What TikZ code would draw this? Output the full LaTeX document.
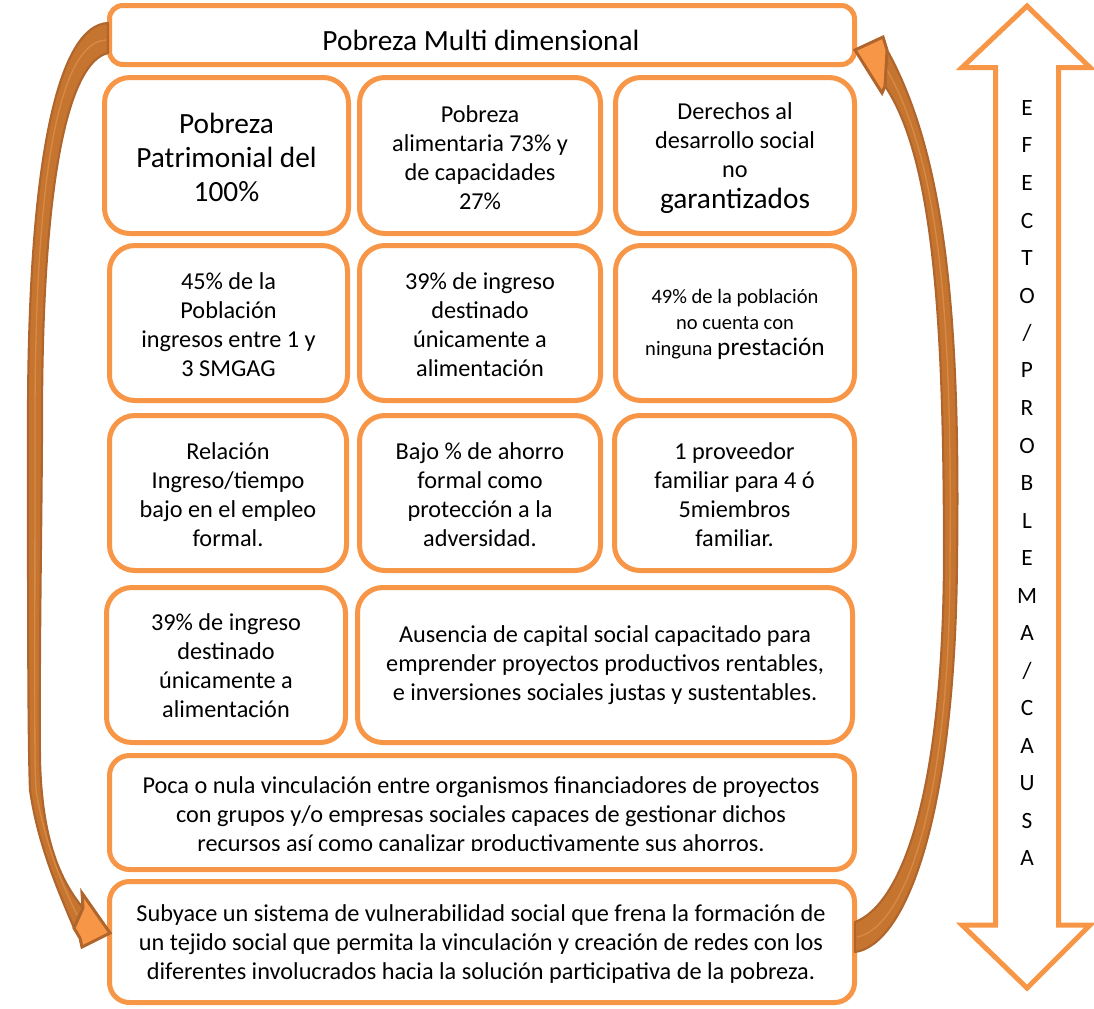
\documentclass[tikz,border=0pt]{standalone}
\usepackage{fontspec}
\setmainfont{Carlito}
\usetikzlibrary{fit}
\definecolor{acc}{HTML}{F79646}
\definecolor{arrdark}{HTML}{B0652C}
\definecolor{arrband}{HTML}{C67530}
\definecolor{arrlight}{HTML}{D88A45}
\newcommand{\nrmtxt}{\fontsize{18.2}{21.75}\selectfont}
\newcommand{\smltxt}{\fontsize{15.4}{19.5}\selectfont}
\newcommand{\bigtxt}{\fontsize{22}{25.5}\selectfont}
\newcommand{\lettxt}{\fontsize{17.5}{20}\selectfont}
\begin{document}
\begin{tikzpicture}[x=0.75pt,y=-0.75pt,
  box/.style={draw=acc, line width=3.75pt, rounded corners=19pt, inner sep=0pt, fill=white},
  wide/.style={box, rounded corners=15pt},
  topbox/.style={box, rounded corners=10pt},
  txt/.style={align=center, font=\nrmtxt, inner sep=0pt},
  band/.style={fill=arrband, draw=arrdark, line width=1.6pt, line join=round},
  head/.style={fill=acc, draw=arrdark, line width=2.2pt, line join=miter},
  dbl/.style={draw=acc, fill=white, line width=3.75pt, line join=miter},
  lettr/.style={font=\lettxt, inner sep=0pt}]
\useasboundingbox (0,0) rectangle (1094,1008);

% boxes
\node[topbox, fit={(109.5,5.5)(854.5,64.5)}] (top) {};
\node[box, fit={(104.5,77.5)(348.5,233.5)}] (b11) {};
\node[box, fit={(359.5,77.5)(600.5,233.5)}] (b12) {};
\node[box, fit={(615.5,77.5)(854.5,233.5)}] (b13) {};
\node[box, fit={(109.5,245.5)(347.5,400.5)}] (b21) {};
\node[box, fit={(359.5,245.5)(600.5,400.5)}] (b22) {};
\node[box, fit={(615.5,245.5)(854.5,400.5)}] (b23) {};
\node[box, fit={(109.5,415.5)(346.5,570.5)}] (b31) {};
\node[box, fit={(359.5,415.5)(600.5,570.5)}] (b32) {};
\node[box, fit={(614.5,415.5)(854.5,570.5)}] (b33) {};
\node[box, fit={(106.5,587.5)(345.5,742.5)}] (b41) {};
\node[box, fit={(357.5,587.5)(852.5,742.5)}] (b42) {};
\node[wide, fit={(109.5,755.5)(854.5,869.5)}] (b5) {};
\node[wide, fit={(109.5,881.5)(854.5,1002.5)}] (b6) {};

% texts
\node[txt, font=\bigtxt] (ttop) at (481,40) {Pobreza Multi dimensional};
\node[txt, font=\bigtxt] (t11) at (226.5,157) {Pobreza\\Patrimonial del\\100\%};
\node[txt] (t12) at (480,157.5) {Pobreza\\alimentaria 73\% y\\de capacidades\\27\%};
\node[txt] (t13) at (735,158) {Derechos al\\desarrollo social\\no\\[1pt]{\fontsize{22}{24}\selectfont garantizados}};
\node[txt] (t21) at (228.5,325) {45\% de la\\Población\\ingresos entre 1 y\\3 SMGAG};
\node[txt] (t22) at (480,325) {39\% de ingreso\\destinado\\únicamente a\\alimentación};
\node[txt, font=\smltxt] (t23) at (735,324) {49\% de la población\\no cuenta con\\ninguna {\fontsize{19}{21.75}\selectfont prestación}};
\node[txt] (t31) at (228,494.5) {Relación\\Ingreso/tiempo\\bajo en el empleo\\formal.};
\node[txt] (t32) at (480,494.5) {Bajo \% de ahorro\\formal como\\protección a la\\adversidad.};
\node[txt] (t33) at (734.5,494.5) {1 proveedor\\familiar para 4 ó\\5miembros\\familiar.};
\node[txt] (t41) at (226,666) {39\% de ingreso\\destinado\\únicamente a\\alimentación};
\node[txt] (t42) at (605,665) {Ausencia de capital social capacitado para\\emprender proyectos productivos rentables,\\e inversiones sociales justas y sustentables.};
\begin{scope}
  \clip (112,758) rectangle (852,850);
  \node[txt] (t5) at (481,816) {Poca o nula vinculación entre organismos financiadores de proyectos\\con grupos y/o empresas sociales capaces de gestionar dichos\\recursos así como canalizar productivamente sus ahorros.};
\end{scope}
\node[txt] (t6) at (481,944) {Subyace un sistema de vulnerabilidad social que frena la formación de\\un tejido social que permita la vinculación y creación de redes con los\\diferentes involucrados hacia la solución participativa de la pobreza.};

% left curved arrow (top box -> bottom box)
\path[band] (108,23) .. controls (60,25) and (28,150) .. (28,420)
  .. controls (28,600) and (28,740) .. (30,790)
  .. controls (38,845) and (58,890) .. (74,928) -- (80,938) -- (82,947) -- (110,933) -- (82,893) -- (83,908)
  .. controls (60,880) and (42,840) .. (40,760)
  .. controls (39,650) and (42,500) .. (42,420)
  .. controls (42,170) and (70,62) .. (108,53) -- cycle;
\draw[arrlight, line width=1pt] (106,40) .. controls (62,42) and (35,160) .. (35,420)
  .. controls (35,650) and (34,760) .. (36,790) .. controls (44,840) and (60,880) .. (77,915);
\path[head] (74,928) -- (80,938) -- (82,947) -- (110,933) -- (82,893) -- (83,908) -- cycle;

% right curved arrow (bottom box -> top box)
\path[band] (855,952) .. controls (905,945) and (955,820) .. (957,560)
  .. controls (960,330) and (948,160) .. (887,50) -- (883,37) -- (855,50) -- (882,93) -- (885,86)
  .. controls (935,160) and (944,330) .. (944,560)
  .. controls (943,800) and (900,905) .. (855,922) -- cycle;
\draw[arrlight, line width=1pt] (857,937) .. controls (903,928) and (950,810) .. (950,560)
  .. controls (952,330) and (942,165) .. (886,68);
\path[head] (887,50) -- (883,37) -- (855,50) -- (882,93) -- (885,86) -- cycle;

% double arrow
\path[dbl] (1027,6) -- (1090,67.5) -- (1058.5,67.5) -- (1058.5,925) -- (1090,925)
  -- (1027,988) -- (962,925) -- (995.5,925) -- (995.5,67.5) -- (962,67.5) -- cycle;
\foreach \c [count=\i] in {E,F,E,C,T,O,/,P,R,O,B,L,E,M,A,/,C,A,U,S,A}
  \node[lettr] (l\i) at (1027,{108+37.5*(\i-1)}) {\c};
\end{tikzpicture}
\end{document}
